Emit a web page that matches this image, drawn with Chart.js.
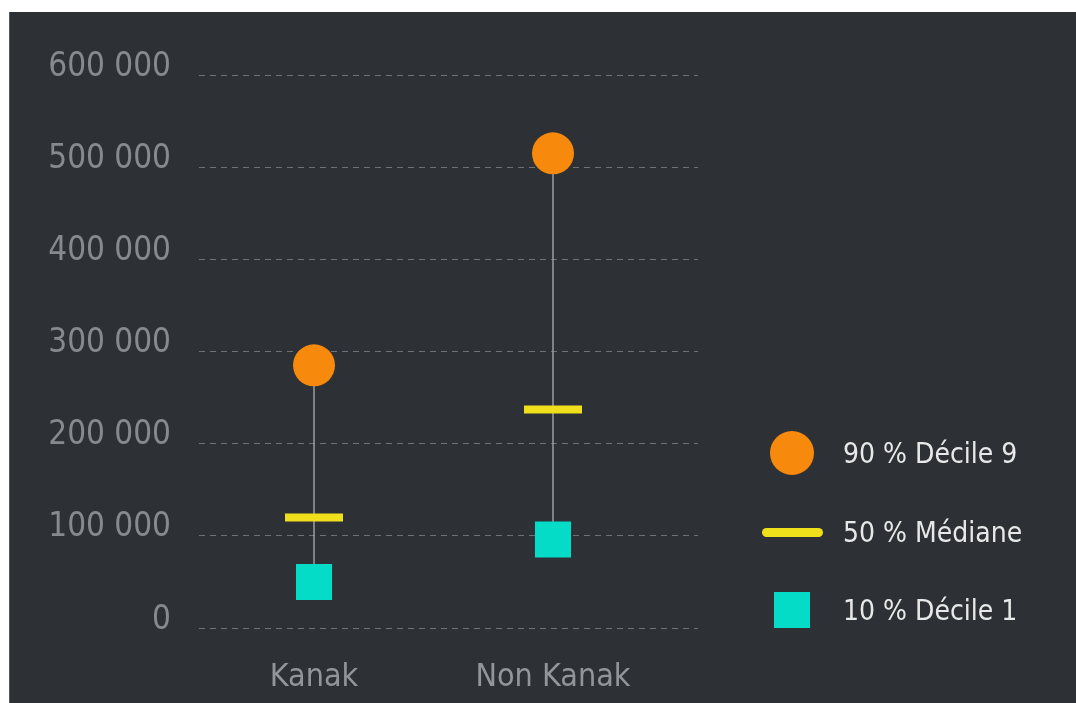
<!DOCTYPE html>
<html lang="fr">
<head>
  <meta charset="UTF-8">
  <title>Déciles Kanak / Non Kanak</title>
  <style>
    body {
      margin: 0;
      background: #ffffff;
      font-family: 'Liberation Sans Narrow', 'DejaVu Sans Condensed', sans-serif;
    }
    #panel {
      position: absolute;
      left: 9px;
      top: 12px;
      width: 1067px;
      height: 691px;
      background: #2d3135;
      border-left: 1px solid #55595d;
      box-sizing: border-box;
    }
    #chart {
      position: absolute;
      left: 0;
      top: 0;
      width: 1067px;
      height: 691px;
    }
    .leg {
      position: absolute;
      left: 751px;
      width: 310px;
      height: 60px;
      display: flex;
      align-items: center;
    }
    .leg .mark {
      width: 62px;
      display: flex;
      justify-content: center;
      align-items: center;
    }
    .leg span {
      margin-left: 20px;
      color: #e8e8e8;
      font-size: 28px;
    }
  </style>
</head>
<body>
  <div id="panel">
    <canvas id="chart" width="1067" height="691"></canvas>
    <div id="legend"></div>
  </div>

  <script src="https://cdn.jsdelivr.net/npm/chart.js"></script>
  <script>
    const categories = ['Kanak', 'Non Kanak'];
    const decile9 = [285000, 515000];
    const mediane = [120000, 237000];
    const decile1 = [50000, 96000];
    const yTicks = [0, 100000, 200000, 300000, 400000, 500000, 600000];
    const legendLabels = ['90 % Décile 9', '50 % Médiane', '10 % Décile 1'];

    const orange = '#f7890c';
    const jaune = '#f0e01c';
    const turquoise = '#04dcc8';
    const fontName = "'Liberation Sans Narrow', 'DejaVu Sans Condensed', sans-serif";

    const pts = arr => arr.map((v, i) => ({ x: i + 1, y: v }));

    // trait vertical entre décile 1 et décile 9
    const connector = [];
    categories.forEach((c, i) => {
      connector.push({ x: i + 1, y: decile1[i] });
      connector.push({ x: i + 1, y: decile9[i] });
      connector.push({ x: i + 1, y: null });
    });

    const fmt = v => String(v).replace(/\B(?=(\d{3})+(?!\d))/g, ' ');

    new Chart(document.getElementById('chart'), {
      type: 'scatter',
      data: {
        datasets: [
          {
            label: legendLabels[0],
            data: pts(decile9),
            pointStyle: 'circle',
            pointRadius: 21,
            pointHoverRadius: 21,
            backgroundColor: orange,
            borderWidth: 0,
            order: 1
          },
          {
            label: legendLabels[1],
            data: pts(mediane),
            pointStyle: 'line',
            pointRadius: 29,
            pointHoverRadius: 29,
            borderColor: jaune,
            backgroundColor: jaune,
            borderWidth: 8,
            order: 2
          },
          {
            label: legendLabels[2],
            data: pts(decile1),
            pointStyle: 'rect',
            pointRadius: 25.5,
            pointHoverRadius: 25.5,
            backgroundColor: turquoise,
            borderWidth: 0,
            order: 3
          },
          {
            type: 'line',
            label: 'lien',
            data: connector,
            showLine: true,
            spanGaps: false,
            pointRadius: 0,
            borderColor: '#9a9ea2',
            borderWidth: 1.5,
            order: 10
          }
        ]
      },
      options: {
        responsive: false,
        animation: false,
        layout: { padding: { top: 63, right: 379, left: 0, bottom: 0 } },
        plugins: {
          legend: { display: false },
          tooltip: { enabled: false }
        },
        scales: {
          x: {
            type: 'linear',
            min: 0.5188,
            max: 2.6067,
            afterBuildTicks: s => { s.ticks = categories.map((c, i) => ({ value: i + 1 })); },
            afterFit: s => { s.height = 75; },
            grid: { display: false },
            border: { display: false },
            ticks: {
              padding: 22,
              color: '#92969a',
              font: { family: fontName, size: 32 },
              callback: v => categories[v - 1]
            }
          },
          y: {
            min: 0,
            max: 600000,
            afterBuildTicks: s => { s.ticks = yTicks.map(v => ({ value: v })); },
            afterFit: s => { s.width = 189; },
            border: { display: false, dash: [6, 5] },
            grid: { color: '#6e7276', lineWidth: 1, drawTicks: false },
            ticks: {
              padding: 28,
              labelOffset: -8,
              color: '#868a8e',
              font: { family: fontName, size: 33 },
              callback: v => fmt(v)
            }
          }
        }
      }
    });

    // légende à droite
    const legend = document.getElementById('legend');
    const marks = [
      `<div style="width:44px;height:44px;border-radius:50%;background:${orange}"></div>`,
      `<div style="width:61px;height:9px;border-radius:5px;background:${jaune}"></div>`,
      `<div style="width:36px;height:36px;background:${turquoise}"></div>`
    ];
    const tops = [411, 490, 568];
    legendLabels.forEach((l, i) => {
      const d = document.createElement('div');
      d.className = 'leg';
      d.style.top = tops[i] + 'px';
      d.innerHTML = `<div class="mark">${marks[i]}</div><span>${l}</span>`;
      legend.appendChild(d);
    });
  </script>
</body>
</html>
